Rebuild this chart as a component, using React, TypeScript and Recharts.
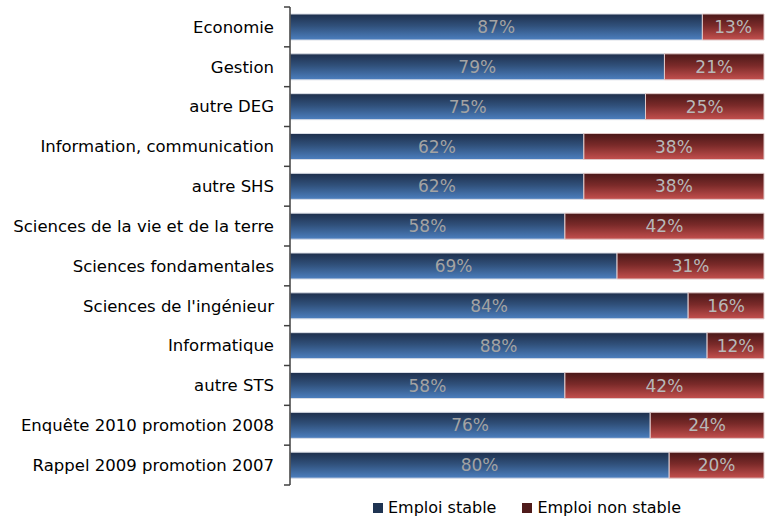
import { BarChart, Bar, XAxis, YAxis, LabelList, Legend } from 'recharts';

const categories = [
  'Economie',
  'Gestion',
  'autre DEG',
  'Information, communication',
  'autre SHS',
  'Sciences de la vie et de la terre',
  'Sciences fondamentales',
  "Sciences de l'ingénieur",
  'Informatique',
  'autre STS',
  'Enquête 2010 promotion 2008',
  'Rappel 2009 promotion 2007',
];
const stable = [87, 79, 75, 62, 62, 58, 69, 84, 88, 58, 76, 80];
const nonStable = [13, 21, 25, 38, 38, 42, 31, 16, 12, 42, 24, 20];

const data = categories.map((name, i) => ({ name, stable: stable[i], nonStable: nonStable[i] }));

const FONT = '"DejaVu Sans", sans-serif';
const AXIS = '#404040';
const AXIS_WIDTH = 290;

// category label plus tick marks on the band edges (like Excel)
function CategoryTick(props: any) {
  const { x, y, payload, index, visibleTicksCount } = props;
  const half = payload.offset || 0;
  const ax = x + 16;
  return (
    <g>
      <line x1={ax - 6} x2={ax} y1={y - half} y2={y - half} stroke={AXIS} strokeWidth={1.5} />
      {index === visibleTicksCount - 1 && (
        <line x1={ax - 6} x2={ax} y1={y + half} y2={y + half} stroke={AXIS} strokeWidth={1.5} />
      )}
      <text x={x} y={y} dy="0.35em" textAnchor="end" fontFamily={FONT} fontSize={16.5} fill="#000">
        {payload.value}
      </text>
    </g>
  );
}

function LegendContent() {
  const items = [
    { label: 'Emploi stable', color: '#1f3452' },
    { label: 'Emploi non stable', color: '#4f1b1b' },
  ];
  return (
    <div style={{ display: 'flex', justifyContent: 'center', gap: 26, fontFamily: FONT, fontSize: 16, color: '#000', paddingTop: 13, paddingLeft: AXIS_WIDTH, lineHeight: '20px' }}>
      {items.map(it => (
        <div key={it.label} style={{ display: 'flex', alignItems: 'center', gap: 5 }}>
          <span style={{ width: 10, height: 10, background: it.color, display: 'inline-block' }} />
          <span>{it.label}</span>
        </div>
      ))}
    </div>
  );
}

export default function App() {
  return (
    <div style={{ position: 'absolute', left: 0, top: 0, width: 776, height: 519, background: '#fff' }}>
      <BarChart
        width={776}
        height={519}
        data={data}
        layout="vertical"
        margin={{ top: 7, right: 12, bottom: 4, left: 0 }}
        barSize={26}
      >
        <defs>
          <linearGradient id="gBlue" x1="0" y1="0" x2="0" y2="1">
            <stop offset="0%" stopColor="#1e2f4c" />
            <stop offset="45%" stopColor="#30507a" />
            <stop offset="100%" stopColor="#4c7fbf" />
          </linearGradient>
          <linearGradient id="gRed" x1="0" y1="0" x2="0" y2="1">
            <stop offset="0%" stopColor="#4a1818" />
            <stop offset="45%" stopColor="#7a2a29" />
            <stop offset="100%" stopColor="#c4504e" />
          </linearGradient>
        </defs>
        <XAxis type="number" domain={[0, 100]} hide />
        <YAxis
          type="category"
          dataKey="name"
          width={AXIS_WIDTH}
          axisLine={{ stroke: AXIS, strokeWidth: 1.5 }}
          tickLine={false}
          tickSize={0}
          tickMargin={16}
          tick={<CategoryTick />}
          interval={0}
        />
        <Bar dataKey="stable" stackId="a" fill="url(#gBlue)" stroke="#d9dde6" strokeWidth={1} isAnimationActive={false}>
          <LabelList dataKey="stable" position="center" formatter={(v: any) => `${v}%`} fill="#a3a3a3" fontFamily={FONT} fontSize={17} />
        </Bar>
        <Bar dataKey="nonStable" stackId="a" fill="url(#gRed)" stroke="#e0c8c8" strokeWidth={1} isAnimationActive={false}>
          <LabelList dataKey="nonStable" position="center" formatter={(v: any) => `${v}%`} fill="#b8b8b8" fontFamily={FONT} fontSize={17} />
        </Bar>
        <Legend verticalAlign="bottom" height={30} content={<LegendContent />} />
      </BarChart>
    </div>
  );
}
